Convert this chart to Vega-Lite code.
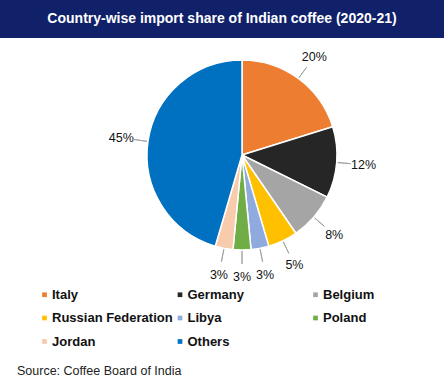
{
  "$schema": "https://vega.github.io/schema/vega-lite/v6.json",
  "padding": 0,
  "spacing": 0,
  "background": "white",
  "config": {"view": {"stroke": null}, "font": "Liberation Sans"},
  "title": {"text": "Source: Coffee Board of India", "orient": "bottom", "anchor": "start", "dx": 17, "fontSize": 12.5, "fontWeight": "normal", "color": "#222222", "offset": 16},
  "vconcat": [
    {
      "width": 444,
      "height": 38,
      "view": {"fill": "#10216a", "stroke": null},
      "data": {"values": [{"t": "Country-wise import share of Indian coffee (2020-21)"}]},
      "mark": {"type": "text", "color": "white", "fontWeight": "bold", "fontSize": 14, "baseline": "middle", "align": "center"},
      "encoding": {"text": {"field": "t", "type": "nominal"}}
    },
    {
      "width": 444,
      "height": 234,
      "data": {"values": [
        {"country": "Italy", "share": 0.20, "idx": 1},
        {"country": "Germany", "share": 0.12, "idx": 2},
        {"country": "Belgium", "share": 0.08, "idx": 3},
        {"country": "Russian Federation", "share": 0.05, "idx": 4},
        {"country": "Libya", "share": 0.03, "idx": 5},
        {"country": "Poland", "share": 0.03, "idx": 6},
        {"country": "Jordan", "share": 0.03, "idx": 7},
        {"country": "Others", "share": 0.45, "idx": 8}
      ]},
      "transform": [
        {"window": [{"op": "sum", "field": "share", "as": "cum"}], "sort": [{"field": "idx"}], "frame": [null, 0]},
        {"calculate": "datum.cum - datum.share / 2", "as": "mid"}
      ],
      "layer": [
        {
          "mark": {"type": "arc", "outerRadius": 95, "xOffset": 20, "stroke": "white", "strokeWidth": 1.5},
          "encoding": {
            "theta": {"field": "share", "type": "quantitative", "stack": true},
            "order": {"field": "idx", "type": "quantitative"},
            "color": {
              "field": "country", "type": "nominal",
              "scale": {
                "domain": ["Italy", "Germany", "Belgium", "Russian Federation", "Libya", "Poland", "Jordan", "Others"],
                "range": ["#ed7d31", "#262626", "#a5a5a5", "#ffc000", "#8faadc", "#70ad47", "#f8cbad", "#0070c0"]
              },
              "legend": {
                "orient": "none", "legendX": 38, "legendY": 288, "columns": 3, "direction": "horizontal", "gridAlign": "all",
                "title": null, "symbolType": "square", "symbolSize": 22, "symbolStrokeWidth": 0,
                "labelFontSize": 13, "labelFontWeight": "bold", "labelColor": "#111111",
                "rowPadding": 9.5, "columnPadding": 0.5, "labelOffset": 1
              }
            }
          }
        },
        {
          "mark": {"type": "arc", "radius": 109, "radius2": 96, "xOffset": 20, "stroke": "#a6a6a6", "strokeWidth": 1, "fill": null, "fillOpacity": 0},
          "encoding": {
            "theta": {"field": "mid", "type": "quantitative", "stack": null},
            "theta2": {"field": "mid"}
          }
        },
        {
          "mark": {"type": "text", "radius": 122, "xOffset": 20, "fontWeight": "normal", "fontSize": 12.5, "color": "#111111"},
          "encoding": {
            "theta": {"field": "mid", "type": "quantitative", "stack": null},
            "text": {"field": "share", "type": "quantitative", "format": ".0%"}
          }
        }
      ]
    }
  ]
}
